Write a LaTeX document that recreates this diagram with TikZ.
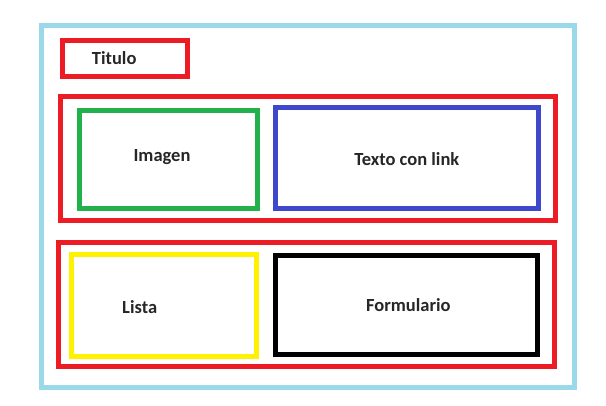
\documentclass[tikz,border=0pt]{standalone}
\usepackage{fontspec}
\setmainfont{Carlito}
\definecolor{cred}{HTML}{ED1C24}
\definecolor{cgreen}{HTML}{22B14C}
\definecolor{cblue}{HTML}{3F48CC}
\definecolor{cyellow}{HTML}{FFF200}
\definecolor{clight}{HTML}{99D9EA}
\definecolor{ctext}{HTML}{262626}
\begin{document}
\begin{tikzpicture}[x=1pt,y=-1pt,
  frame/.style={draw, rectangle, inner sep=0pt, outer sep=0pt, line width=5pt},
  lbl/.style={text=ctext, font=\fontsize{18.5}{22}\selectfont\bfseries, inner sep=0pt}]
\useasboundingbox (0,0) rectangle (606,405);
\node[frame, draw=clight, line width=4.5pt, minimum width=533pt, minimum height=361.8pt] (page) at (308,206.4) {};
\node[frame, draw=cred, minimum width=125pt, minimum height=35.5pt] (tbox) at (125,58.55) {};
\node[lbl] (titulo) at (114.2,58) {Titulo};
\node[frame, draw=cred, minimum width=495.3pt, minimum height=123.7pt] (row1) at (308.15,158.35) {};
\node[frame, draw=cgreen, minimum width=178pt, minimum height=97.5pt] (img) at (168.5,159.55) {};
\node[lbl] (imagen) at (162,157) {Imagen};
\node[frame, draw=cblue, minimum width=263pt, minimum height=100.8pt] (txt) at (407,157.9) {};
\node[lbl] (texto) at (406.8,159) {Texto con link};
\node[frame, draw=cred, minimum width=496pt, minimum height=123.8pt] (row2) at (306.5,304.4) {};
\node[frame, draw=cyellow, minimum width=185pt, minimum height=101.7pt] (lst) at (164,305.35) {};
\node[lbl] (lista) at (139.7,307.3) {Lista};
\node[frame, draw=black, minimum width=262pt, minimum height=98.9pt] (frm) at (406.5,305.25) {};
\node[lbl] (formulario) at (408.3,305) {Formulario};
\end{tikzpicture}
\end{document}
